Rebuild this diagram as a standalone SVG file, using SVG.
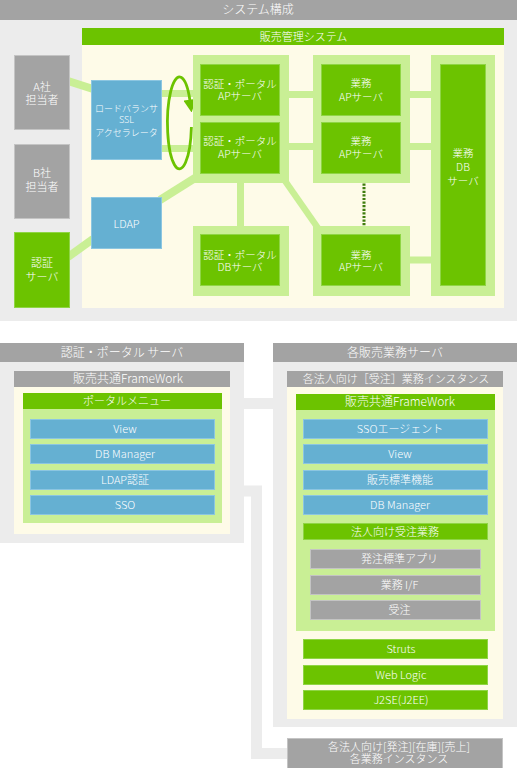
<svg xmlns="http://www.w3.org/2000/svg" width="517" height="768" viewBox="0 0 517 768">
<style>
.hdr{fill:#a3a3a3}
.lgray{fill:#ececec}
.cream{fill:#fefbe8}
.grn{fill:#6cc300}
.grnb{fill:#6cc300;stroke:#8fd545;stroke-width:1}
.lgrn{fill:#c9ef95}
.blue{fill:#65b0d2;stroke:#8cc6e1;stroke-width:1}
.gbox{fill:#a3a3a3;stroke:#c4c4c4;stroke-width:1}
text{font-family:"Noto Sans CJK JP","Noto Sans",sans-serif;font-weight:300;fill:#ffffff;text-anchor:middle;font-size:11px}
.s12{font-size:12px}
.s10{font-size:10.5px}
.s9{font-size:9px}
.band{stroke:#c9ef95;fill:none}
.gband{stroke:#ececec;fill:none}
</style>
<defs>
<marker id="arr" viewBox="0 0 10 10" refX="1" refY="5" markerWidth="4.6" markerHeight="4.6" orient="auto" markerUnits="strokeWidth">
<path d="M0,0 L10,5 L0,10 z" fill="#6cc300"/>
</marker>
</defs>
<rect width="517" height="768" fill="#ffffff"/>

<!-- containers -->
<g id="system-overview">
<rect class="hdr" x="0" y="0" width="517" height="20"/>
<text class="s12" x="258" y="14.3">システム構成</text>
<rect class="lgray" x="0" y="20" width="517" height="301"/>
</g>
<g id="sales-mgmt-system">
<rect class="grn" x="82" y="28" width="422" height="17"/>
<text x="303.5" y="40.5">販売管理システム</text>
<rect class="cream" x="82" y="45" width="422" height="263"/>
</g>

<!-- bottom panels -->
<g id="auth-portal-server">
<rect class="hdr" x="0" y="343" width="244" height="19"/>
<text class="s12" x="122" y="357">認証・ポータル サーバ</text>
<rect class="lgray" x="0" y="362" width="244" height="181"/>
</g>
<g id="sales-servers">
<rect class="hdr" x="273" y="343" width="244" height="19"/>
<text class="s12" x="395" y="357">各販売業務サーバ</text>
<rect class="lgray" x="273" y="362" width="244" height="365"/>
</g>

<!-- connectors -->
<g id="connectors">
<line class="band" stroke-width="8" x1="68" y1="81" x2="93" y2="89"/>
<line class="band" stroke-width="8" x1="68" y1="257" x2="93" y2="239"/>
<line class="band" stroke-width="8" x1="160" y1="200" x2="195" y2="178"/>
<line class="band" stroke-width="7" x1="162" y1="93.5" x2="193" y2="93.5"/>
<line class="band" stroke-width="7" x1="162" y1="148.5" x2="193" y2="148.5"/>
<line class="band" stroke-width="7" x1="289" y1="94.5" x2="313" y2="94.5"/>
<line class="band" stroke-width="7" x1="289" y1="146.5" x2="313" y2="146.5"/>
<line class="band" stroke-width="7" x1="410" y1="94.5" x2="431" y2="94.5"/>
<line class="band" stroke-width="7" x1="410" y1="146.5" x2="431" y2="146.5"/>
<line class="band" stroke-width="7" x1="410" y1="260" x2="431" y2="260"/>
<line class="band" stroke-width="7" x1="240.5" y1="182" x2="240.5" y2="227"/>
<line class="band" stroke-width="6.5" x1="283" y1="178" x2="320" y2="231"/>
<line x1="364" y1="183.5" x2="364" y2="226" stroke="#3f7d0d" stroke-width="3" stroke-dasharray="2.2 1.4"/>
<path d="M191.4 127 A12 46 0 1 1 190 101" fill="none" stroke="#6cc300" stroke-width="2.8" marker-end="url(#arr)"/>
<rect class="lgray" x="243" y="398" width="31" height="11"/>
<path class="gband" stroke-width="11" d="M243 491 H256.5 V753.5 H288"/>
</g>

<!-- top nodes -->
<g id="a-staff">
<rect class="gbox" x="14.5" y="55.5" width="55" height="74"/>
<text x="42" y="91">A社</text>
<text x="42" y="104">担当者</text>
</g>
<g id="b-staff">
<rect class="gbox" x="14.5" y="144.5" width="55" height="74"/>
<text x="42" y="177">B社</text>
<text x="42" y="191">担当者</text>
</g>
<g id="auth-server">
<rect class="grnb" x="14.5" y="232.5" width="55" height="75"/>
<text x="42" y="267">認証</text>
<text x="42" y="281">サーバ</text>
</g>
<g id="load-balancer">
<rect class="blue" x="91.5" y="80.5" width="70" height="79"/>
<text class="s9" x="126.5" y="111.5">ロードバランサ</text>
<text class="s9" x="126.5" y="122.5">SSL</text>
<text class="s9" x="126.5" y="135.5">アクセラレータ</text>
</g>
<g id="ldap">
<rect class="blue" x="91.5" y="197.5" width="70" height="51"/>
<text x="126.5" y="228">LDAP</text>
</g>
<g id="auth-ap-group">
<rect class="lgrn" x="193" y="55" width="96" height="128"/>
<rect class="grnb" x="200.5" y="64.5" width="79" height="51"/>
<text class="s10" x="240" y="87.5">認証・ポータル</text>
<text class="s10" x="240" y="100">APサーバ</text>
<rect class="grnb" x="200.5" y="122.5" width="79" height="51"/>
<text class="s10" x="240" y="145">認証・ポータル</text>
<text class="s10" x="240" y="157.5">APサーバ</text>
</g>
<g id="auth-db-group">
<rect class="lgrn" x="193" y="226" width="96" height="70"/>
<rect class="grnb" x="200.5" y="234.5" width="79" height="51"/>
<text class="s10" x="240" y="258.5">認証・ポータル</text>
<text class="s10" x="240" y="271">DBサーバ</text>
</g>
<g id="biz-ap-group">
<rect class="lgrn" x="313" y="55" width="97" height="128"/>
<rect class="grnb" x="321.5" y="64.5" width="79" height="51"/>
<text class="s10" x="361" y="87">業務</text>
<text class="s10" x="361" y="100.5">APサーバ</text>
<rect class="grnb" x="321.5" y="122.5" width="79" height="51"/>
<text class="s10" x="361" y="144.5">業務</text>
<text class="s10" x="361" y="158">APサーバ</text>
</g>
<g id="biz-ap-n">
<rect class="lgrn" x="313" y="226" width="97" height="70"/>
<rect class="grnb" x="321.5" y="234.5" width="79" height="51"/>
<text class="s10" x="361" y="258.5">業務</text>
<text class="s10" x="361" y="271">APサーバ</text>
</g>
<g id="biz-db">
<rect class="lgrn" x="431" y="55" width="64" height="241"/>
<rect class="grnb" x="440.5" y="64.5" width="45" height="221"/>
<text class="s10" x="463" y="157">業務</text>
<text class="s10" x="463" y="171">DB</text>
<text class="s10" x="463" y="184.5">サーバ</text>
</g>

<!-- bottom left nodes -->
<g id="left-framework">
<rect class="hdr" x="14" y="371" width="216" height="16"/>
<text class="s12" x="128" y="383.3">販売共通FrameWork</text>
<rect class="cream" x="14" y="387" width="216" height="147"/>
</g>
<g id="portal-menu">
<rect class="grn" x="23" y="393" width="199" height="16"/>
<text x="127" y="405">ポータルメニュー</text>
<rect class="lgrn" x="23" y="409" width="199" height="114"/>
</g>
<g id="l-view"><rect class="blue" x="30.5" y="419.5" width="184" height="19"/><text x="125" y="433">View</text></g>
<g id="l-dbm"><rect class="blue" x="30.5" y="444.5" width="184" height="19"/><text x="125" y="458">DB Manager</text></g>
<g id="l-ldap"><rect class="blue" x="30.5" y="470.5" width="184" height="19"/><text x="125" y="484">LDAP認証</text></g>
<g id="l-sso"><rect class="blue" x="30.5" y="495.5" width="184" height="19"/><text x="125" y="509">SSO</text></g>

<!-- bottom right nodes -->
<g id="order-instance">
<rect class="hdr" x="287" y="371" width="216" height="16"/>
<text x="396" y="383">各法人向け［受注］業務インスタンス</text>
<rect class="cream" x="287" y="387" width="216" height="332"/>
</g>
<g id="right-framework">
<rect class="grn" x="296" y="394" width="199" height="16"/>
<text class="s12" x="400" y="406.3">販売共通FrameWork</text>
<rect class="lgrn" x="296" y="410" width="199" height="221"/>
</g>
<g id="r-sso"><rect class="blue" x="303.5" y="419.5" width="184" height="19"/><text x="400" y="433">SSOエージェント</text></g>
<g id="r-view"><rect class="blue" x="303.5" y="444.5" width="184" height="19"/><text x="400" y="458">View</text></g>
<g id="r-std"><rect class="blue" x="303.5" y="470.5" width="184" height="19"/><text x="400" y="484">販売標準機能</text></g>
<g id="r-dbm"><rect class="blue" x="303.5" y="495.5" width="184" height="19"/><text x="400" y="509">DB Manager</text></g>
<g id="corp-order"><rect class="grnb" x="303.5" y="523.5" width="184" height="16"/><text x="395" y="535.5">法人向け受注業務</text></g>
<g id="order-app"><rect class="gbox" x="310.5" y="549.5" width="170" height="19"/><text x="399.5" y="563">発注標準アプリ</text></g>
<g id="biz-if"><rect class="gbox" x="310.5" y="575.5" width="170" height="19"/><text x="399.5" y="589">業務 I/F</text></g>
<g id="order"><rect class="gbox" x="310.5" y="600.5" width="170" height="19"/><text x="399.5" y="614">受注</text></g>
<g id="struts"><rect class="grnb" x="303.5" y="639.5" width="184" height="19"/><text x="401" y="653">Struts</text></g>
<g id="weblogic"><rect class="grnb" x="303.5" y="665.5" width="184" height="19"/><text x="401" y="679">Web Logic</text></g>
<g id="j2se"><rect class="grnb" x="303.5" y="690.5" width="184" height="19"/><text x="401" y="704">J2SE(J2EE)</text></g>

<g id="other-instances">
<rect class="gbox" x="287.5" y="738.5" width="215" height="31"/>
<text x="399" y="751">各法人向け[発注][在庫][売上]</text>
<text x="399" y="763">各業務インスタンス</text>
</g>
</svg>
